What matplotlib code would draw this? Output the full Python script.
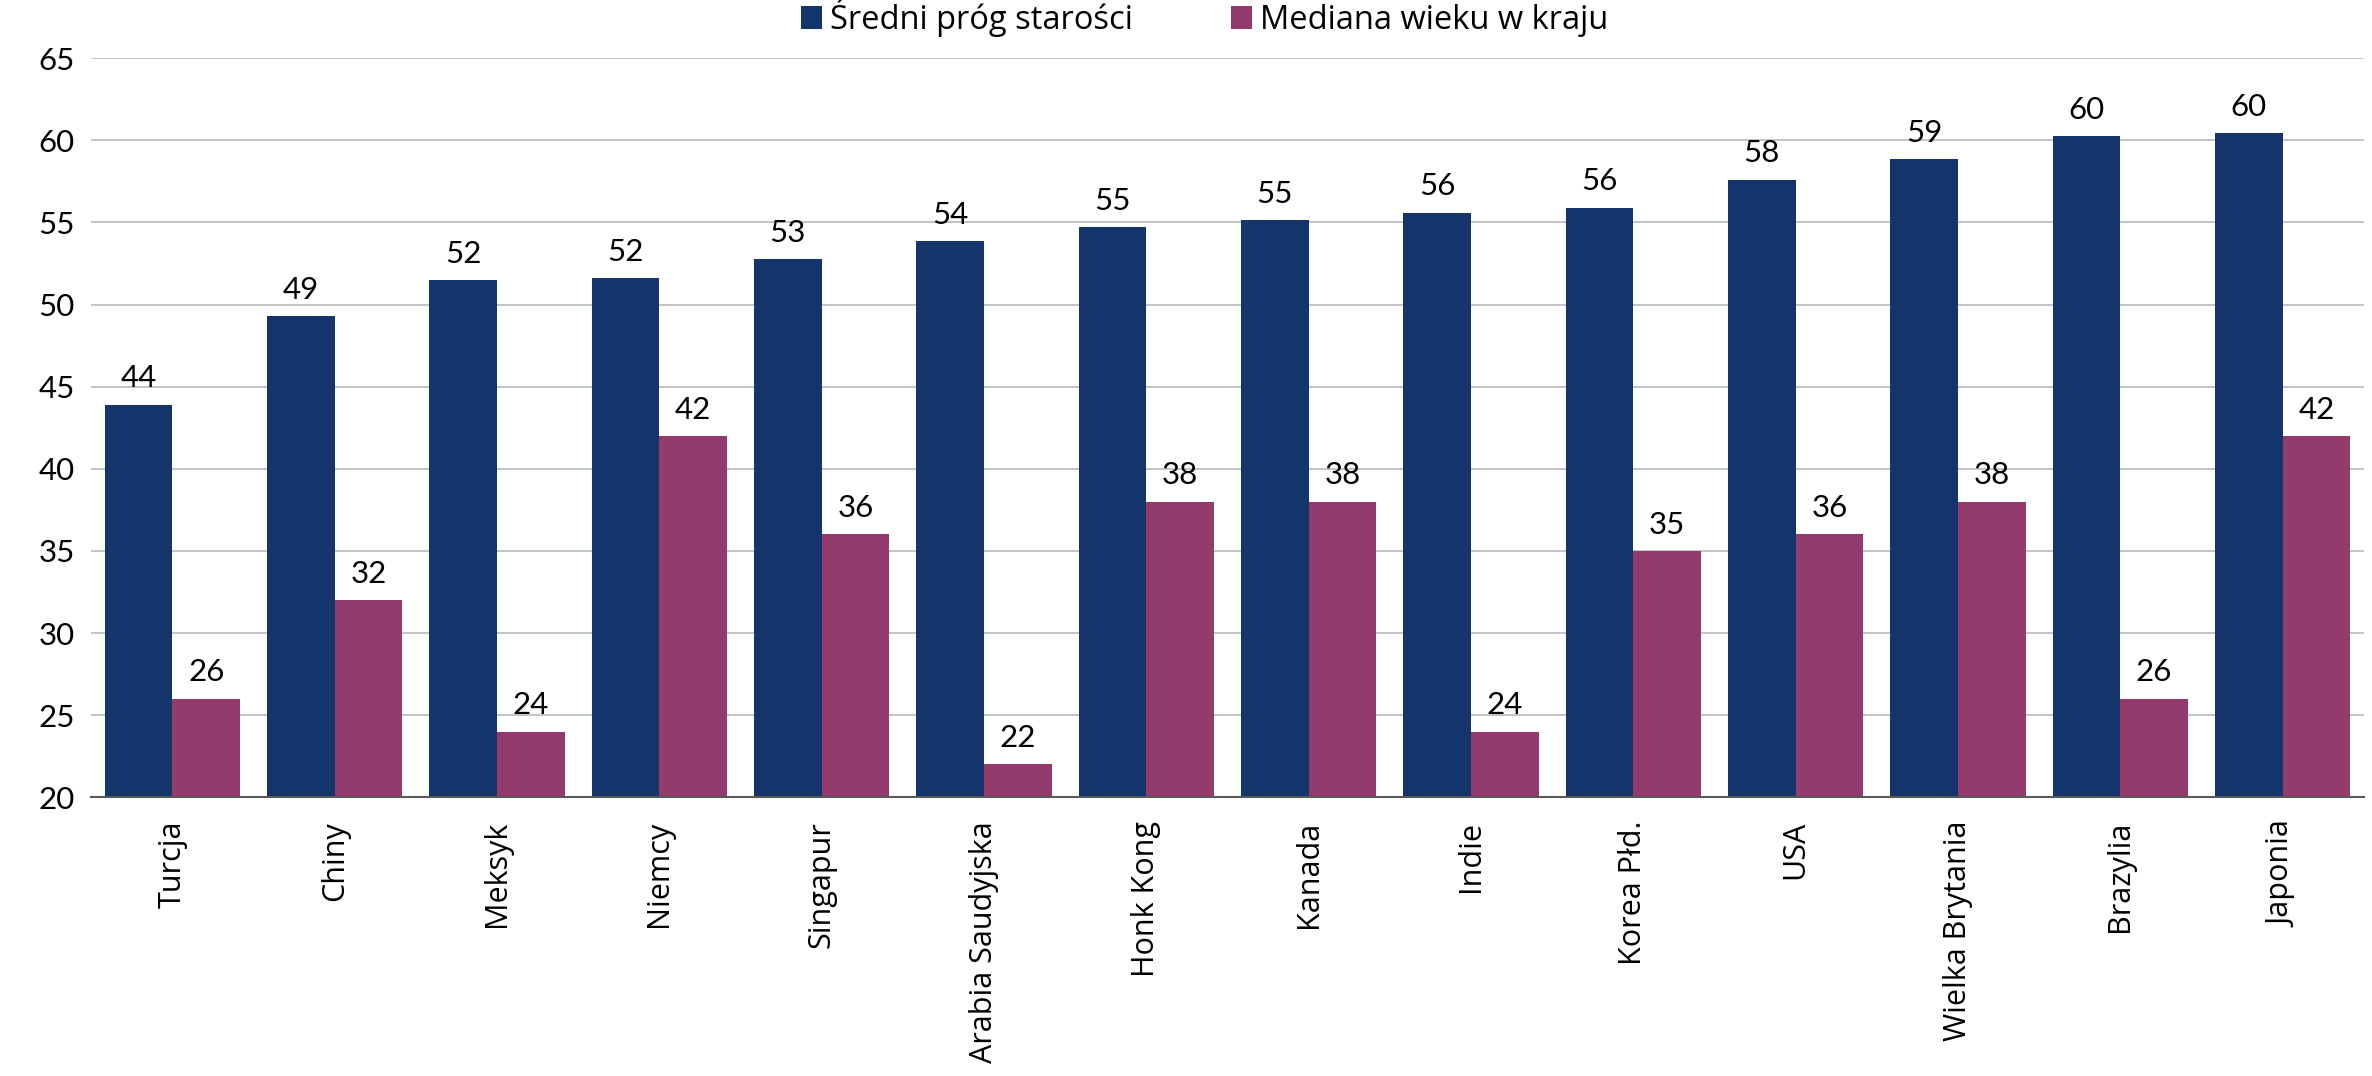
import numpy as np
import matplotlib.pyplot as plt

countries = ["Turcja", "Chiny", "Meksyk", "Niemcy", "Singapur", "Arabia Saudyjska",
             "Honk Kong", "Kanada", "Indie", "Korea Płd.", "USA", "Wielka Brytania",
             "Brazylia", "Japonia"]
old_age = [43.9, 49.3, 51.5, 51.6, 52.75, 53.85, 54.7, 55.15, 55.6, 55.9, 57.6, 58.85, 60.25, 60.45]
median_age = [26, 32, 24, 42, 36, 22, 38, 38, 24, 35, 36, 38, 26, 42]
series_names = ["Średni próg starości", "Mediana wieku w kraju"]

blue = "#14346c"
purple = "#943b6e"
num_font = "Lato"
lab_font = "Open Sans"

fig = plt.figure(figsize=(23.72, 10.76), dpi=100)
ax = fig.add_axes([0.0385, 0.259, 0.958, 0.687])

x = np.arange(len(countries))
w = 0.417
b1 = ax.bar(x - w / 2, np.array(old_age) - 20, w, bottom=20, color=blue, label=series_names[0])
b2 = ax.bar(x + w / 2, np.array(median_age) - 20, w, bottom=20, color=purple, label=series_names[1])

for bars, vals in ((b1, old_age), (b2, median_age)):
    for r, v in zip(bars, vals):
        ax.text(r.get_x() + r.get_width() / 2, v + 0.75, f"{round(v):d}",
                ha="center", va="bottom", fontsize=22.5, family=num_font)

ax.set_xlim(-0.5, len(countries) - 0.5)
ax.set_ylim(20, 65)
ax.set_yticks(range(20, 66, 5))
ax.yaxis.grid(True, color="#bfbfbf", linewidth=1.3)
ax.set_axisbelow(True)
for s in ("top", "right", "left"):
    ax.spines[s].set_visible(False)
ax.spines["bottom"].set_color("#595959")
ax.spines["bottom"].set_linewidth(1.5)
ax.tick_params(axis="both", length=0)
ax.tick_params(axis="y", pad=12)
ax.tick_params(axis="x", pad=17)
for t in ax.get_yticklabels():
    t.set_fontsize(22.5)
    t.set_family(num_font)
ax.set_xticks(x)
ax.set_xticklabels(countries, rotation=90, fontsize=22, family=lab_font)

leg = ax.legend(loc="lower center", bbox_to_anchor=(0.49, 1.0), ncol=2, frameon=False,
                prop={"family": lab_font, "size": 23.5}, handlelength=0.65, handleheight=0.75,
                handletextpad=0.25, columnspacing=3.0, borderaxespad=0.25)

fig.savefig("out.png", dpi=100)
